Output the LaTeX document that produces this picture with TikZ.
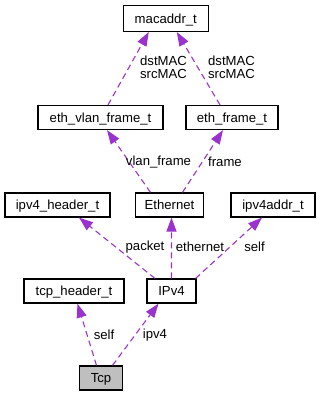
\documentclass[tikz,border=0pt]{standalone}
\usepackage{fontspec}
\setmainfont{Liberation Sans}
\usetikzlibrary{arrows.meta}
\definecolor{edgepurple}{HTML}{9A32CD}
\begin{document}
\begin{tikzpicture}[x=1bp,y=-1bp,
  cls/.style={draw=black, line width=1.2bp, fill=white, inner sep=0pt,
    minimum width=#1, minimum height=24bp,
    font=\fontsize{13.2}{15}\selectfont, text height=9.4bp, text depth=0pt},
  current/.style={cls=#1, fill=black!25},
  lbl/.style={inner sep=0pt, align=center,
    font=\fontsize{13.2}{12.5}\selectfont},
  uses/.style={draw=edgepurple, line width=1.1bp, dash pattern=on 6bp off 4bp,
    -{Triangle[length=14bp,width=10bp,fill=edgepurple]}}
]
\useasboundingbox (0,0) rectangle (320,396);

% classes
\node[cls=85bp,  minimum height=26bp] (macaddr) at (165.8,18.4) {macaddr\_t};
\node[cls=125bp] (vlan)  at (100.5,117.5) {eth\_vlan\_frame\_t};
\node[cls=92bp]  (ethf)  at (232,117.5)   {eth\_frame\_t};
\node[cls=105bp] (ipv4h) at (57.5,205)    {ipv4\_header\_t};
\node[cls=68bp]  (eth)   at (169.5,205)   {Ethernet};
\node[cls=84bp]  (ipv4a) at (273,205)     {ipv4addr\_t};
\node[cls=100bp] (tcph)  at (74,291)      {tcp\_header\_t};
\node[cls=49bp]  (ipv4)  at (171.5,291)   {IPv4};
\node[current=43bp, minimum height=24bp] (tcp) at (101,378) {Tcp};

% usage relations
\draw[uses] ([xshift=7.5bp]vlan.north)   -- ([xshift=-17bp]macaddr.south);
\draw[uses] ([xshift=-12bp]ethf.north)   -- ([xshift=11bp]macaddr.south);
\draw[uses] ([xshift=-19bp]eth.north)    -- ([xshift=6.5bp]vlan.south);
\draw[uses] ([xshift=13bp]eth.north)     -- ([xshift=-9bp]ethf.south);
\draw[uses] ([xshift=-16.5bp]ipv4.north) -- ([xshift=21.5bp]ipv4h.south);
\draw[uses] ([xshift=0bp]ipv4.north)     -- ([xshift=2bp]eth.south);
\draw[uses] ([xshift=-1bp]ipv4.north east) -- ([xshift=-11bp]ipv4a.south);
\draw[uses] ([xshift=-4.5bp]tcp.north)   -- ([xshift=3.5bp]tcph.south);
\draw[uses] ([xshift=11.5bp]tcp.north)   -- ([xshift=-13bp]ipv4.south);

% relation labels
\node[lbl] (l1) at (163.5,67.5) {dstMAC\\srcMAC};
\node[lbl] (l2) at (231.5,67.5) {dstMAC\\srcMAC};
\node[lbl] (l3) at (158.5,162)  {vlan\_frame};
\node[lbl] (l4) at (225,162)    {frame};
\node[lbl] (l5) at (145,247)    {packet};
\node[lbl] (l6) at (200,247)    {ethernet};
\node[lbl] (l7) at (254.5,247)  {self};
\node[lbl] (l8) at (104,335)    {self};
\node[lbl] (l9) at (155,335)    {ipv4};
\end{tikzpicture}
\end{document}
